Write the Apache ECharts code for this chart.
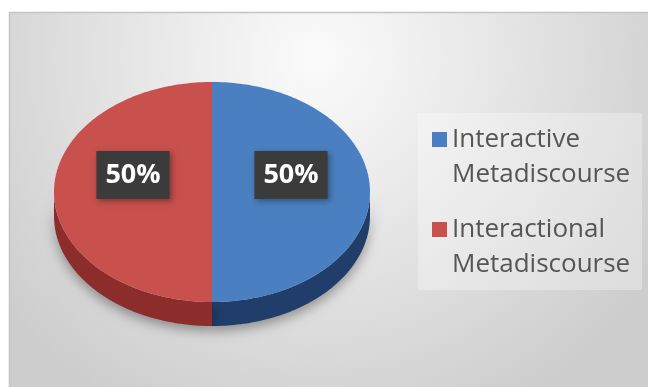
<!DOCTYPE html>
<html>
<head>
<meta charset="utf-8">
<script src="https://cdn.jsdelivr.net/npm/echarts@6/dist/echarts.min.js"></script>
<style>
html,body{margin:0;padding:0;background:#fff;}
#chart{width:648px;height:387px;}
</style>
</head>
<body>
<div id="chart"></div>
<script>
const categories = ['Interactive Metadiscourse', 'Interactional Metadiscourse'];
const values = [50, 50];
const topColors = ['#4a7fc1', '#c8504d'];
const sideColors = ['#213d69', '#8c2d2b'];

const CX = 212, CY = 192, RX = 158, RY = 110, DEPTH = 24;
const total = values.reduce((a, b) => a + b, 0);

function pt(t, dy) {
  return [CX + RX * Math.sin(t), CY - RY * Math.cos(t) + (dy || 0)];
}
function arcPts(a0, a1, dy) {
  const n = Math.max(2, Math.ceil((a1 - a0) / 0.02));
  const pts = [];
  for (let i = 0; i <= n; i++) pts.push(pt(a0 + (a1 - a0) * i / n, dy));
  return pts;
}

function makeRender(idx) {
  return function (params, api) {
    let before = 0;
    for (let k = 0; k < idx; k++) before += values[k];
    const v = api.value(0);
    const start = before / total * Math.PI * 2;
    const end = start + v / total * Math.PI * 2;
    const children = [];
    const a0 = Math.max(start, Math.PI / 2), a1 = Math.min(end, Math.PI * 1.5);
    if (a1 > a0) {
      const pts = arcPts(a0, a1, 0).concat(arcPts(a0, a1, DEPTH).reverse());
      children.push({
        type: 'polygon', z2: 1,
        shape: { points: pts },
        style: { fill: sideColors[idx], shadowBlur: 12, shadowColor: 'rgba(0,0,0,0.35)', shadowOffsetY: 5 }
      });
    }
    children.push({
      type: 'polygon', z2: 5,
      shape: { points: [[CX, CY]].concat(arcPts(start, end, 0)) },
      style: { fill: topColors[idx] }
    });
    const mid = (start + end) / 2;
    children.push({
      type: 'text', z2: 10,
      x: CX + 0.5 * RX * Math.sin(mid),
      y: CY - 0.5 * RY * Math.cos(mid) - 17,
      style: {
        text: Math.round(v / total * 100) + '%',
        fill: '#ffffff',
        font: 'bold 27px "Open Sans", sans-serif',
        align: 'center', verticalAlign: 'middle',
        lineHeight: 32,
        backgroundColor: '#3b3b3b',
        padding: [8, 9, 8, 9],
        shadowBlur: 6, shadowColor: 'rgba(0,0,0,0.35)', shadowOffsetX: 2, shadowOffsetY: 2
      }
    });
    return { type: 'group', children: children };
  };
}

const chart = echarts.init(document.getElementById('chart'), null, { renderer: 'canvas' });
chart.setOption({
  animation: false,
  backgroundColor: '#ffffff',
  graphic: [
    {
      type: 'rect', z: -10, silent: true,
      shape: { x: 9.5, y: 12.5, width: 640, height: 380 },
      style: {
        fill: {
          type: 'radial', x: 0.48, y: 0.12, r: 1.05,
          colorStops: [{ offset: 0, color: '#fbfbfb' }, { offset: 1, color: '#cdcdcd' }]
        },
        stroke: '#c4c4c4', lineWidth: 1.5
      }
    },
    {
      type: 'rect', z: -5, silent: true,
      shape: { x: 418, y: 113, width: 224, height: 177 },
      style: { fill: 'rgba(255,255,255,0.3)' }
    }
  ],
  legend: {
    orient: 'vertical',
    left: 432,
    top: 87,
    padding: 0,
    itemWidth: 15,
    itemHeight: 15,
    itemGap: -15,
    icon: 'rect',
    data: categories,
    formatter: function (name) { return '\n' + name.replace(' ', '\n'); },
    textStyle: {
      fontFamily: '"Open Sans", sans-serif',
      fontSize: 26,
      color: '#555555',
      lineHeight: 35
    }
  },
  series: categories.map(function (name, i) {
    return {
      type: 'custom',
      name: name,
      coordinateSystem: 'none',
      itemStyle: { color: topColors[i] },
      data: [values[i]],
      renderItem: makeRender(i)
    };
  })
});
</script>
</body>
</html>
